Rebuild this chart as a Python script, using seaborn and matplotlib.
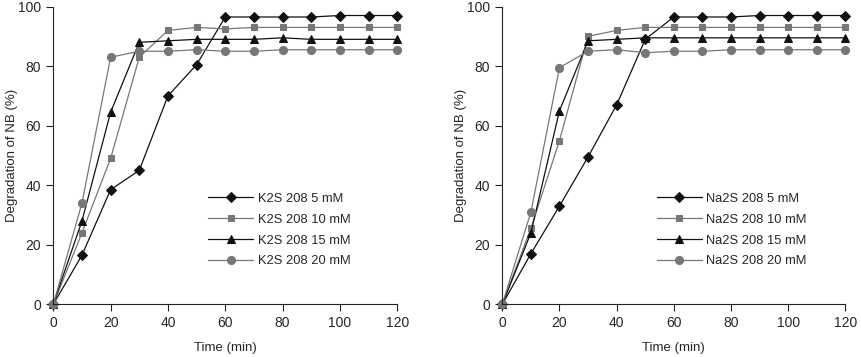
import numpy as np
import pandas as pd
import matplotlib
matplotlib.use('Agg')
import matplotlib.pyplot as plt
import seaborn as sns

# tempi di campionamento (min)
time = [0, 10, 20, 30, 40, 50, 60, 70, 80, 90, 100, 110, 120]

# K2S2O8 - degradazione NB (%)
k_5mM = [0, 16.5, 38.5, 45, 70, 80.5, 96.5, 96.5, 96.5, 96.5, 97, 97, 97]
k_10mM = [0, 24, 49, 83, 92, 93, 92.5, 93, 93, 93, 93, 93, 93]
k_15mM = [0, 28, 64.5, 88, 88.5, 89, 89, 89, 89.5, 89, 89, 89, 89]
k_20mM = [0, 34, 83, 85, 85, 85.5, 85, 85, 85.5, 85.5, 85.5, 85.5, 85.5]

# Na2S2O8 - degradazione NB (%)
na_5mM = [0, 17, 33, 49.5, 67, 89, 96.5, 96.5, 96.5, 97, 97, 97, 97]
na_10mM = [0, 25.5, 55, 90, 92, 93, 93, 93, 93, 93, 93, 93, 93]
na_15mM = [0, 24, 65, 88.5, 89, 89.5, 89.5, 89.5, 89.5, 89.5, 89.5, 89.5, 89.5]
na_20mM = [0, 31, 79.5, 85, 85.5, 84.5, 85, 85, 85.5, 85.5, 85.5, 85.5, 85.5]

conc_labels = ['5 mM', '10 mM', '15 mM', '20 mM']
markers = ['D', 's', '^', 'o']
marker_sizes = [4.8, 4.8, 5.8, 5.8]
colors = ['#111111', '#777777', '#111111', '#777777']

sns.set_style('ticks')
plt.rcParams['font.family'] = ['Liberation Sans', 'DejaVu Sans']
plt.rcParams['font.size'] = 9

fig = plt.figure(figsize=(8.61, 3.57), dpi=100)
ax1 = fig.add_axes([0.0619, 0.1476, 0.3995, 0.834])
ax2 = fig.add_axes([0.5834, 0.1476, 0.3984, 0.834])

panels = [
    (ax1, 'K2S 208', [k_5mM, k_10mM, k_15mM, k_20mM]),
    (ax2, 'Na2S 208', [na_5mM, na_10mM, na_15mM, na_20mM]),
]

for ax, salt, series in panels:
    for vals, conc, mk, ms, col in zip(series, conc_labels, markers, marker_sizes, colors):
        df = pd.DataFrame({'Time': time, 'Deg': vals})
        sns.lineplot(data=df, x='Time', y='Deg', ax=ax, color=col, marker=mk,
                     markersize=ms, markeredgecolor=col,
                     linewidth=0.9, label=f'{salt} {conc}', clip_on=False)
    ax.set_xlim(0, 120)
    ax.set_ylim(0, 100)
    ax.set_xticks(np.arange(0, 121, 20))
    ax.set_yticks(np.arange(0, 101, 20))
    ax.set_xlabel('Time (min)', fontsize=9.5, labelpad=8.5)
    ax.set_ylabel('Degradation of NB (%)', fontsize=9.5, labelpad=0)
    ax.tick_params(labelsize=10, length=4.8, width=0.8, color='#222222')
    ax.tick_params(axis='x', pad=3.5)
    ax.tick_params(axis='y', pad=4)
    for s in ['left', 'bottom']:
        ax.spines[s].set_linewidth(0.8)
        ax.spines[s].set_color('#222222')
    sns.despine(ax=ax)
    ax.legend(loc='lower left', bbox_to_anchor=(0.416, 0.085), frameon=False,
              handlelength=3.5, handletextpad=0.35, fontsize=9.3,
              labelspacing=0.68)

fig.savefig('out.png', dpi=100)
